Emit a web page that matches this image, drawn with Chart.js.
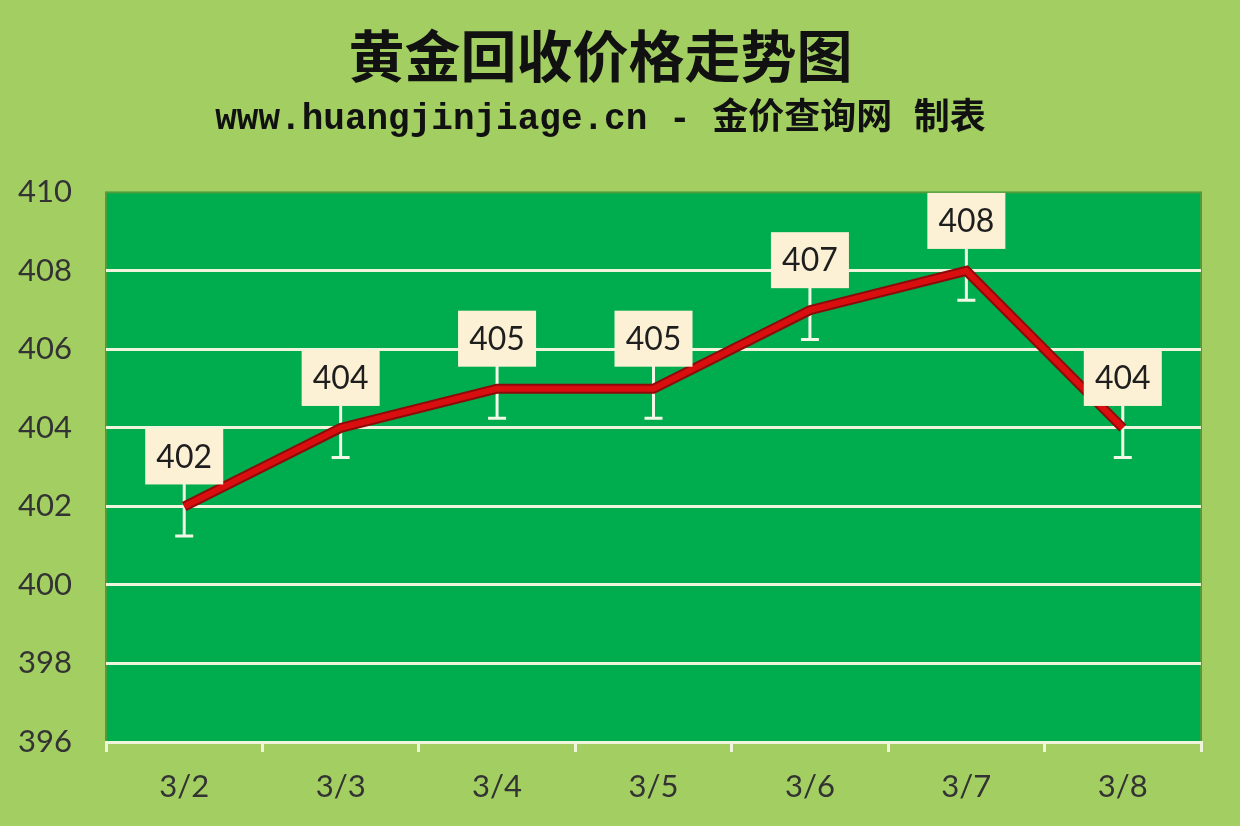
<!DOCTYPE html>
<html>
<head>
<meta charset="utf-8">
<script src="https://cdn.jsdelivr.net/npm/chart.js@4.4.1/dist/chart.umd.min.js"></script>
<style>
  html, body { margin: 0; padding: 0; background: #a3cf62; }
  #wrap { width: 1240px; height: 826px; position: relative; }
</style>
</head>
<body>
<div id="wrap"><canvas id="c"></canvas></div>
<script>
// data
const dates = ["3/2", "3/3", "3/4", "3/5", "3/6", "3/7", "3/8"];
const prices = [402, 404, 405, 405, 407, 408, 404];
const errBars = [0.75, 0.75, 0.75, 0.75, 0.75, 0.75, 0.75];
const yTicks = [396, 398, 400, 402, 404, 406, 408, 410];

const cream = "#eef5dc";

// green plot area with a dark edge
const plotBg = {
  id: "plotBg",
  beforeDraw(chart) {
    const a = chart.chartArea, ctx = chart.ctx;
    ctx.save();
    ctx.fillStyle = "#00ad4e";
    ctx.fillRect(a.left, a.top, a.right - a.left, a.bottom - a.top);
    ctx.strokeStyle = "#4f9d3a";
    ctx.lineWidth = 2;
    ctx.strokeRect(a.left, a.top, a.right - a.left, a.bottom - a.top);
    ctx.restore();
  }
};

// error whiskers, drawn before the line
const whiskers = {
  id: "whiskers",
  beforeDatasetsDraw(chart) {
    const ctx = chart.ctx, x = chart.scales.x, y = chart.scales.y;
    ctx.save();
    ctx.strokeStyle = "#f2f7e6";
    ctx.lineWidth = 3;
    prices.forEach((v, i) => {
      const px = x.getPixelForValue(i);
      const lo = y.getPixelForValue(v - errBars[i]);
      const hi = y.getPixelForValue(v + errBars[i]);
      ctx.beginPath();
      ctx.moveTo(px, hi); ctx.lineTo(px, lo);
      ctx.moveTo(px - 9, lo); ctx.lineTo(px + 9, lo);
      ctx.stroke();
    });
    ctx.restore();
  }
};

// value boxes above each point
const valueBoxes = {
  id: "valueBoxes",
  afterDatasetsDraw(chart) {
    const ctx = chart.ctx, x = chart.scales.x, y = chart.scales.y;
    ctx.save();
    ctx.font = "32px Lato, 'Open Sans', sans-serif";
    ctx.textAlign = "center";
    ctx.textBaseline = "middle";
    prices.forEach((v, i) => {
      const px = x.getPixelForValue(i);
      const py = y.getPixelForValue(v) - 50;
      ctx.fillStyle = "#fcf1d4";
      ctx.fillRect(px - 39, py - 28, 78, 56);
      ctx.fillStyle = "#1e1e1e";
      ctx.fillText(String(v), px, py + 1);
    });
    ctx.restore();
  }
};

new Chart(document.getElementById("c"), {
  type: "line",
  data: {
    labels: dates,
    datasets: [
      { data: prices, borderColor: "#8e0a0a", borderWidth: 10, pointRadius: 0, tension: 0, order: 2 },
      { data: prices, borderColor: "#d90f0f", borderWidth: 6, pointRadius: 0, tension: 0, order: 1 }
    ]
  },
  options: {
    responsive: true,
    maintainAspectRatio: false,
    animation: false,
    layout: { padding: { left: 0, right: 39, top: 0, bottom: 0 } },
    plugins: {
      legend: { display: false },
      tooltip: { enabled: false },
      title: {
        display: true,
        text: "黄金回收价格走势图",
        color: "#111",
        font: { family: "'Noto Sans CJK SC'", size: 56, weight: "bold" },
        padding: { top: 22, bottom: 4 }
      },
      subtitle: {
        display: true,
        text: "www.huangjinjiage.cn - 金价查询网 制表",
        color: "#111",
        font: { family: "'Liberation Mono', 'Noto Sans CJK SC'", size: 36, weight: "bold" },
        padding: { top: 5, bottom: 51 }
      }
    },
    scales: {
      x: {
        offset: true,
        grid: { display: true, offset: true, drawOnChartArea: false, drawTicks: true, tickLength: 10, color: cream, lineWidth: 3 },
        border: { display: true, color: cream, width: 3 },
        ticks: { color: "#333", padding: 16, font: { family: "Lato, 'Open Sans', sans-serif", size: 31 } },
        afterFit(s) { s.height = 84; }
      },
      y: {
        min: 396,
        max: 410,
        afterBuildTicks(s) { s.ticks = yTicks.map(v => ({ value: v })); },
        grid: {
          drawTicks: false,
          lineWidth: 3,
          color: c => (c.tick.value === 410 || c.tick.value === 396) ? "rgba(0,0,0,0)" : cream
        },
        border: { display: false },
        ticks: { color: "#333", padding: 34, font: { family: "Lato, 'Open Sans', sans-serif", size: 31 } },
        afterFit(s) { s.width = 106; }
      }
    }
  },
  plugins: [plotBg, whiskers, valueBoxes]
});
</script>
</body>
</html>
